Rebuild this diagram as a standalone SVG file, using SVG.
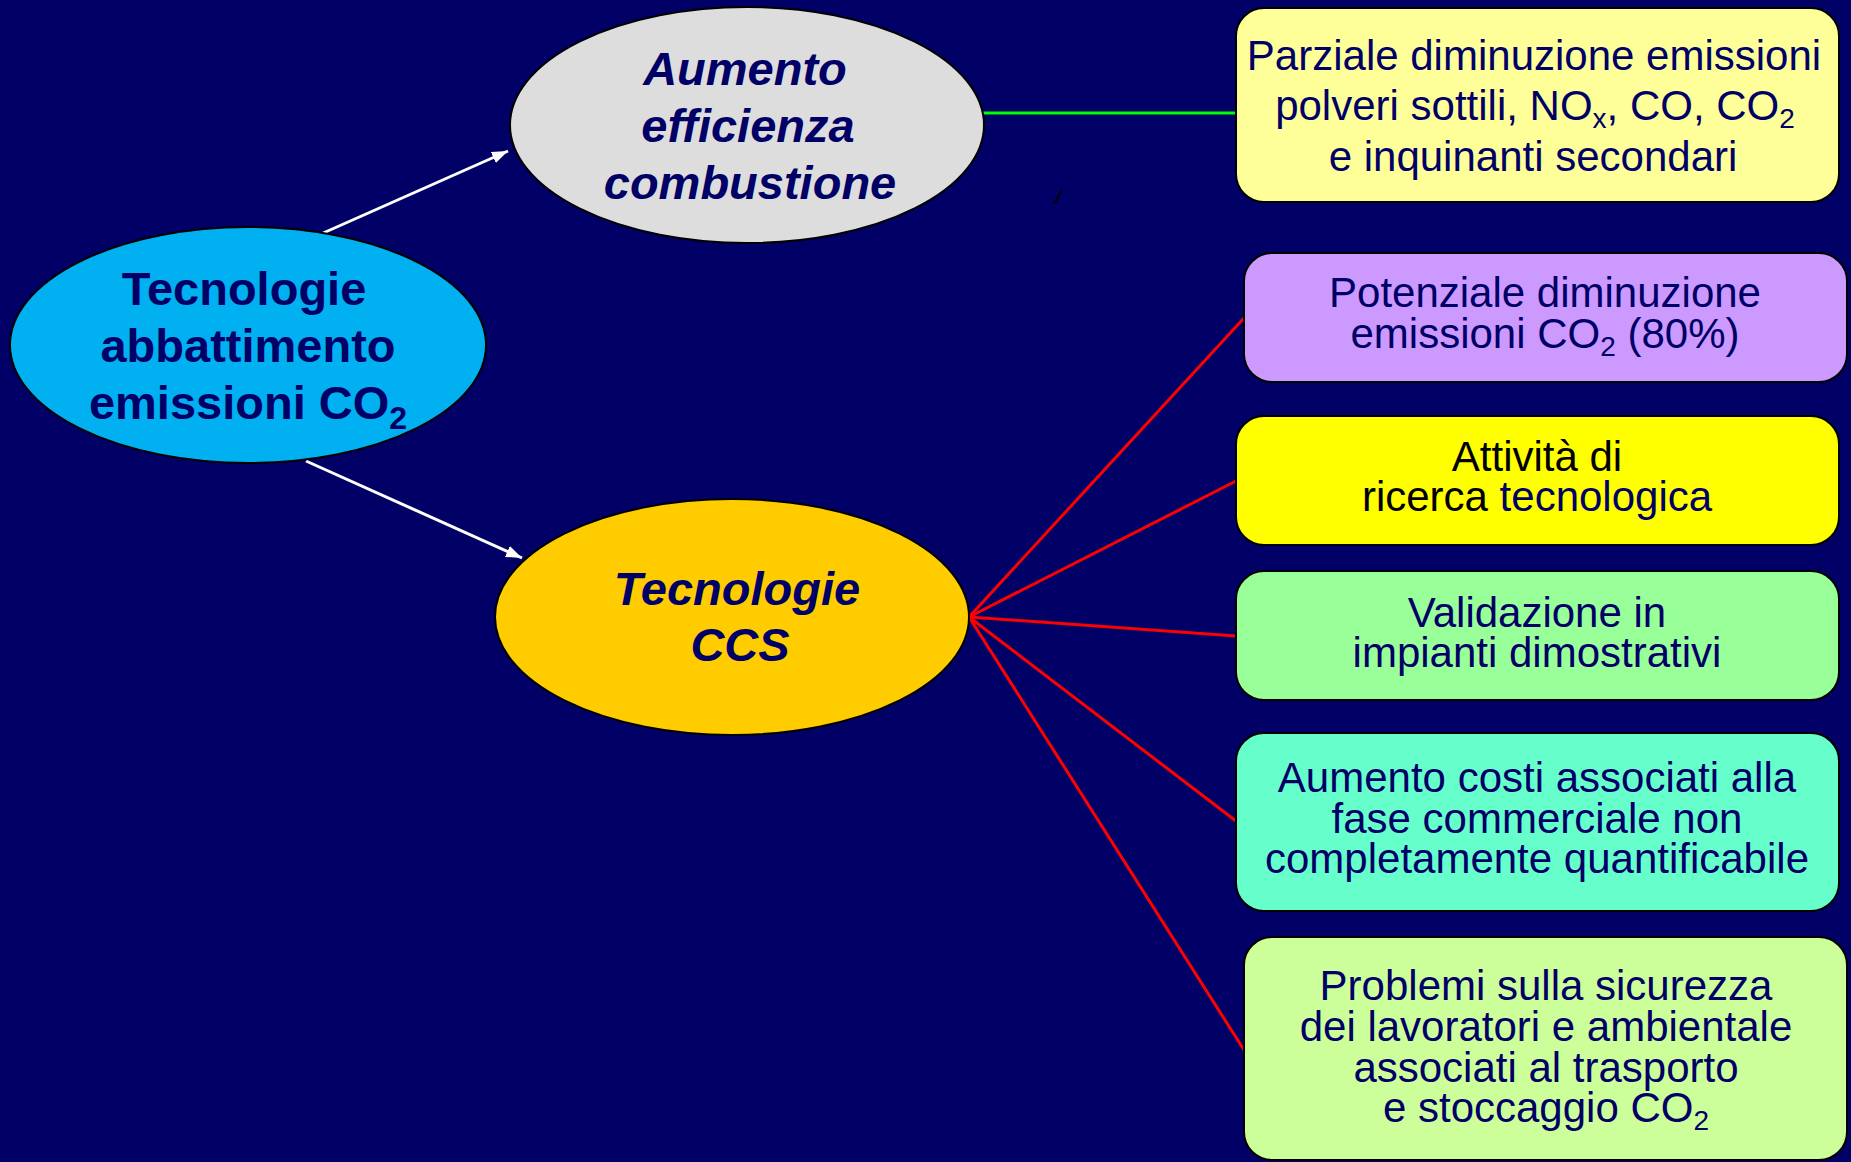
<svg xmlns="http://www.w3.org/2000/svg" width="1851" height="1162" viewBox="0 0 1851 1162">
<defs>
<style>
.t{font-family:"Liberation Sans",Arial,sans-serif;fill:#000066;text-anchor:middle}
.box{font-size:42px}
.ell{font-size:47px;font-weight:bold}
.it{font-style:italic}
.node{stroke:#000;stroke-width:2}
.red{stroke:#FF0000;stroke-width:3;fill:none}
.wh{stroke:#FFFFFF;stroke-width:3;fill:none}
</style>
<marker id="ah" markerUnits="userSpaceOnUse" markerWidth="18" markerHeight="14" refX="16" refY="6" orient="auto">
<path d="M0,0 L16,6 L0,12 z" fill="#FFFFFF"/>
</marker>
</defs>
<rect x="0" y="0" width="1851" height="1162" fill="#000066"/>

<g id="connectors">
<line class="wh" x1="321" y1="234" x2="508" y2="151" marker-end="url(#ah)"/>
<line class="wh" x1="306" y1="461" x2="522" y2="558" marker-end="url(#ah)"/>
<line x1="980" y1="113" x2="1236" y2="113" stroke="#00FF00" stroke-width="3"/>
<line class="red" x1="969" y1="617" x2="1244" y2="318"/>
<line class="red" x1="969" y1="617" x2="1236" y2="481"/>
<line class="red" x1="969" y1="617" x2="1236" y2="636"/>
<line class="red" x1="969" y1="617" x2="1236" y2="821"/>
<line class="red" x1="969" y1="617" x2="1244" y2="1050"/>
<line x1="1054" y1="204" x2="1062" y2="190" stroke="#000" stroke-width="2"/>
</g>

<g id="n-aumento">
<ellipse class="node" cx="747" cy="125" rx="237" ry="118" fill="#DDDDDD"/>
<text class="t ell it" x="745" y="85">Aumento</text>
<text class="t ell it" x="748" y="142">efficienza</text>
<text class="t ell it" x="750" y="199">combustione</text>
</g>

<g id="n-tecnologie">
<ellipse class="node" cx="248" cy="345" rx="238" ry="118" fill="#00B0F0"/>
<text class="t ell" x="244" y="305">Tecnologie</text>
<text class="t ell" x="248" y="362">abbattimento</text>
<text class="t ell" x="248" y="419">emissioni CO<tspan font-size="32" dy="10">2</tspan></text>
</g>

<g id="n-ccs">
<ellipse class="node" cx="732" cy="617" rx="237" ry="118" fill="#FFCC00"/>
<text class="t ell it" x="737" y="605">Tecnologie</text>
<text class="t ell it" x="740" y="661">CCS</text>
</g>

<g id="b1">
<rect class="node" x="1236" y="8" width="603" height="194" rx="28" fill="#FFFF99"/>
<text class="t box" x="1534" y="70">Parziale diminuzione emissioni</text>
<text class="t box" x="1535" y="120">polveri sottili, NO<tspan font-size="28" dy="8">x</tspan><tspan dy="-8">, CO, CO</tspan><tspan font-size="28" dy="8">2</tspan></text>
<text class="t box" x="1533" y="171">e inquinanti secondari</text>
</g>

<g id="b2">
<rect class="node" x="1244" y="253" width="603" height="129" rx="28" fill="#CC99FF"/>
<text class="t box" x="1545" y="307">Potenziale diminuzione</text>
<text class="t box" x="1545" y="348">emissioni CO<tspan font-size="28" dy="8">2</tspan><tspan dy="-8"> (80%)</tspan></text>
</g>

<g id="b3">
<rect class="node" x="1236" y="416" width="603" height="129" rx="28" fill="#FFFF00"/>
<text class="t box" x="1537" y="471" fill="#000000" style="fill:#000">Attività di</text>
<text class="t box" x="1537" y="511"><tspan style="fill:#000">ricerca </tspan>tecnologica</text>
</g>

<g id="b4">
<rect class="node" x="1236" y="571" width="603" height="129" rx="28" fill="#99FF99"/>
<text class="t box" x="1537" y="627">Validazione in</text>
<text class="t box" x="1537" y="667">impianti dimostrativi</text>
</g>

<g id="b5">
<rect class="node" x="1236" y="733" width="603" height="178" rx="28" fill="#66FFCC"/>
<text class="t box" x="1537" y="792">Aumento costi associati alla</text>
<text class="t box" x="1537" y="833">fase commerciale non</text>
<text class="t box" x="1537" y="873">completamente quantificabile</text>
</g>

<g id="b6">
<rect class="node" x="1244" y="937" width="603" height="223" rx="28" fill="#CCFF99"/>
<text class="t box" x="1546" y="1000">Problemi sulla sicurezza</text>
<text class="t box" x="1546" y="1041">dei lavoratori e ambientale</text>
<text class="t box" x="1546" y="1082">associati al trasporto</text>
<text class="t box" x="1546" y="1122">e stoccaggio CO<tspan font-size="28" dy="8">2</tspan></text>
</g>
</svg>
